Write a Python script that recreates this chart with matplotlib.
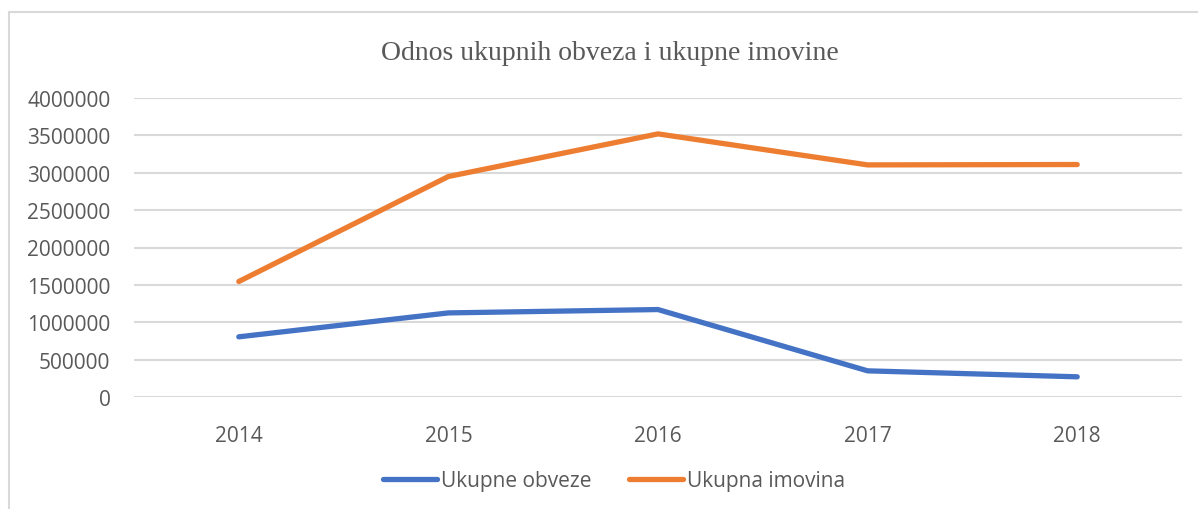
import matplotlib

matplotlib.use("Agg")

import matplotlib.pyplot as plt
from matplotlib.patches import Rectangle

YEARS = ["2014", "2015", "2016", "2017", "2018"]
OBVEZE = [805000, 1125000, 1170000, 350000, 270000]
IMOVINA = [1545000, 2950000, 3520000, 3105000, 3110000]
Y_TICKS = [0, 500000, 1000000, 1500000, 2000000, 2500000, 3000000, 3500000, 4000000]

BLUE = "#4472C4"
ORANGE = "#ED7D31"
TEXT_GREY = "#595959"
GRID_GREY = "#D9D9D9"

plt.rcParams["font.family"] = ["Open Sans", "DejaVu Sans"]

fig = plt.figure(figsize=(11.98, 5.10), dpi=100)
fig.patch.set_facecolor("white")

# chart area frame (runs off the right and bottom edges)
fig.patches.append(
    Rectangle((9 / 1198, -0.1), 1.2, 0.9745 + 0.1, transform=fig.transFigure,
              fill=False, edgecolor=GRID_GREY, linewidth=1.5, zorder=0)
)

ax = fig.add_axes([134 / 1198, 1 - 398 / 510, 1048 / 1198, 299 / 510])
x = list(range(len(YEARS)))

ax.plot(x, OBVEZE, color=BLUE, linewidth=3.8, solid_capstyle="round",
        solid_joinstyle="round", label="Ukupne obveze", zorder=3)
ax.plot(x, IMOVINA, color=ORANGE, linewidth=3.8, solid_capstyle="round",
        solid_joinstyle="round", label="Ukupna imovina", zorder=3)

ax.set_xlim(-0.5, len(YEARS) - 0.5)
ax.set_ylim(0, 4000000)
ax.set_xticks(x)
ax.set_xticklabels(YEARS)
ax.set_yticks(Y_TICKS)
ax.set_yticklabels([str(v) for v in Y_TICKS])
ax.tick_params(axis="both", length=0, labelsize=15, colors=TEXT_GREY)
ax.tick_params(axis="x", pad=20)
ax.tick_params(axis="y", pad=17)
ax.grid(axis="y", color=GRID_GREY, linewidth=1.5)
ax.set_axisbelow(True)
for spine in ax.spines.values():
    spine.set_visible(False)

fig.text(610 / 1198, 1 - 53 / 510, "Odnos ukupnih obveza i ukupne imovine",
         ha="center", va="center", fontsize=20, color=TEXT_GREY,
         family=["Liberation Serif", "DejaVu Serif"])

fig.legend(loc="center", bbox_to_anchor=(614 / 1198, 1 - 482 / 510), ncol=2,
           frameon=False, fontsize=15, labelcolor=TEXT_GREY, handlelength=2.6,
           handletextpad=0.2, columnspacing=1.8)

fig.savefig("out.png", dpi=100, facecolor="white")
